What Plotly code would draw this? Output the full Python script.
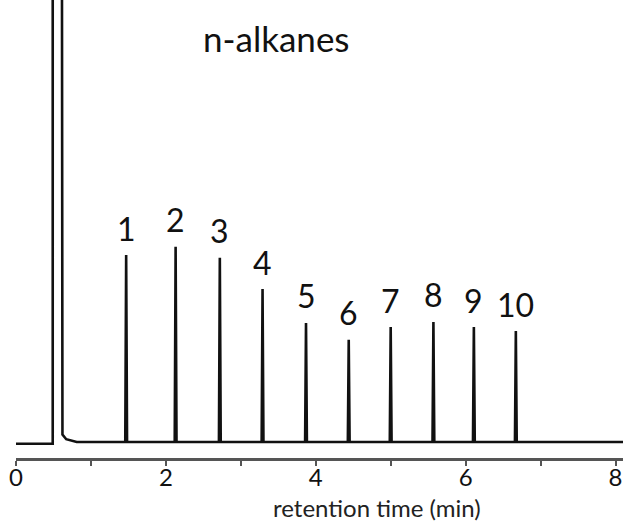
import plotly.graph_objects as go

# ---- data ----
retention_times = [1.47, 2.13, 2.72, 3.29, 3.87, 4.44, 5.00, 5.57, 6.11, 6.67]
peak_heights = [40.8, 42.6, 40.2, 33.4, 26.0, 22.3, 25.1, 26.2, 25.1, 24.2]
peak_labels = ["1", "2", "3", "4", "5", "6", "7", "8", "9", "10"]
solvent_start, solvent_end, solvent_height = 0.49, 0.61, 150.0
run_start, run_end = 0.0, 8.1
baseline_level = 0.0
pre_solvent_level = -0.4

major_ticks = [0, 2, 4, 6, 8]
minor_ticks = [1, 3, 5, 7]

# ---- build the trace from the data ----
xs = [run_start, solvent_start]
ys = [pre_solvent_level, pre_solvent_level]
xs += [solvent_start, solvent_end, solvent_end + 0.01, solvent_end + 0.06, solvent_end + 0.2]
ys += [solvent_height, solvent_height, 1.6, 0.6, baseline_level]
w = 0.012
for t, h in zip(retention_times, peak_heights):
    xs += [t - w, t, t + w]
    ys += [baseline_level, h, baseline_level]
xs += [run_end]
ys += [baseline_level]

fig = go.Figure()
fig.add_trace(go.Scatter(x=xs, y=ys, mode="lines",
                         line=dict(color="#111111", width=2.6),
                         hoverinfo="skip", showlegend=False, cliponaxis=True))

for t, h, lab in zip(retention_times, peak_heights, peak_labels):
    fig.add_annotation(x=t, y=h, text=lab, showarrow=False, yanchor="middle",
                       yshift=27, font=dict(family="Lato", size=32, color="#111111"))

fig.add_annotation(x=(276 - 16) / 607, y=(458 - 38) / 458, xref="paper", yref="paper",
                   text="n-alkanes", showarrow=False, xanchor="center", yanchor="middle",
                   font=dict(family="Lato", size=35, color="#111111"))

fig.add_annotation(x=(377 - 16) / 607, y=(458 - 508) / 458, xref="paper", yref="paper",
                   text="retention time (min)", showarrow=False,
                   xanchor="center", yanchor="middle",
                   font=dict(family="Lato", size=24, color="#222222"))

fig.update_layout(
    width=623, height=523,
    margin=dict(l=16, r=0, t=0, b=65),
    paper_bgcolor="white", plot_bgcolor="white",
    font=dict(family="Lato", color="#222222"),
    xaxis=dict(range=[run_start, run_end], tickvals=major_ticks,
               ticktext=[str(v) for v in major_ticks],
               showgrid=False, zeroline=False, showline=True, linecolor="#555555",
               linewidth=2.5, ticks="outside", ticklen=5, tickwidth=2, tickcolor="#555555",
               ticklabelstandoff=-9,
               tickfont=dict(family="Lato", size=24, color="#111111"),
               minor=dict(tickvals=minor_ticks, ticks="outside", ticklen=5,
                          tickwidth=2, tickcolor="#555555")),
    yaxis=dict(range=[-3.5, 96.5], visible=False, showgrid=False, zeroline=False),
)

fig.write_html("out.html")
